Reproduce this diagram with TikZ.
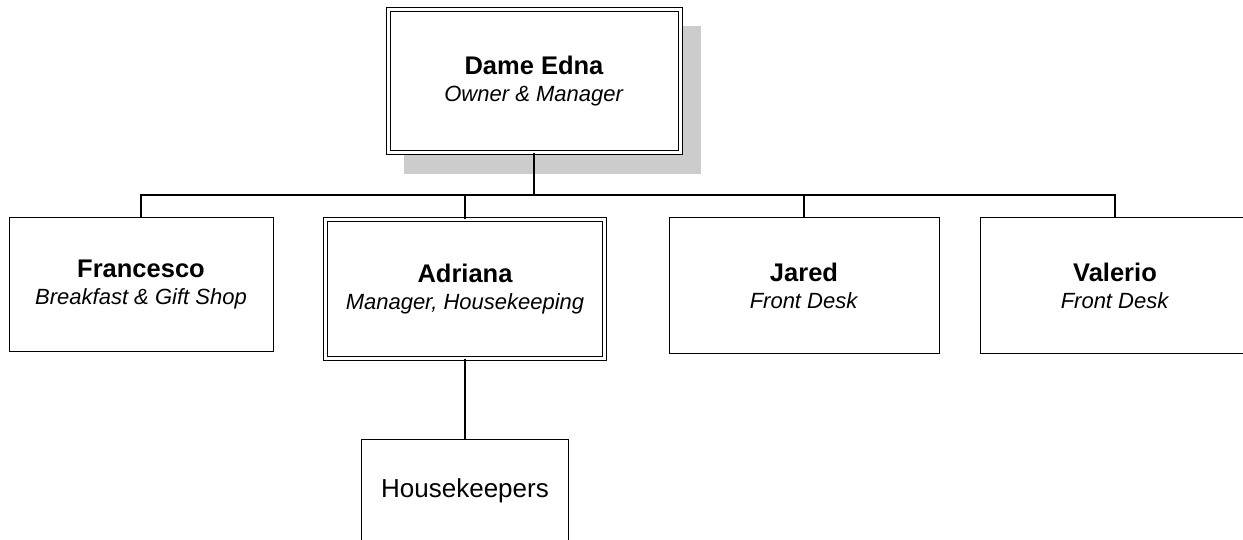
\documentclass[tikz,border=0pt]{standalone}
\usepackage{fontspec}
\setmainfont{Liberation Sans}
\begin{document}
\begin{tikzpicture}[x=1pt,y=-1pt,
  box/.style={draw=black, line width=1pt, fill=white, inner sep=0pt, align=center,
    font=\fontsize{22}{27}\selectfont},
  dbox/.style={box, double=white, double distance=3pt},
  conn/.style={draw=black, line width=1.2pt}]
\useasboundingbox (0,0) rectangle (1243,540);
% shadow of the top box
\fill[black!20] (404,26) rectangle (701,174);
\node[dbox, minimum width=292pt, minimum height=143pt] (edna) at (534,81.5)
  {{\fontsize{25.5}{27}\selectfont\bfseries Dame Edna}\\\textit{Owner \& Manager}};
\node[box, minimum width=264pt, minimum height=133pt] (fran) at (141,284.5)
  {{\fontsize{25.5}{27}\selectfont\bfseries Francesco}\\\textit{Breakfast \& Gift Shop}};
\node[dbox, minimum width=279pt, minimum height=138pt] (adri) at (465,289)
  {{\fontsize{25.5}{27}\selectfont\bfseries Adriana}\\\textit{Manager, Housekeeping}};
\node[box, minimum width=270pt, minimum height=135pt] (jared) at (804,285.5)
  {{\fontsize{25.5}{27}\selectfont\bfseries Jared}\\\textit{Front Desk}};
\node[box, minimum width=270pt, minimum height=135pt] (val) at (1115,285.5)
  {{\fontsize{25.5}{27}\selectfont\bfseries Valerio}\\\textit{Front Desk}};
\node[box, minimum width=207pt, minimum height=104pt, font=\fontsize{26}{30}\selectfont] (house) at (465,491)
  {Housekeepers};
\coordinate (bus) at (534,195);
\draw[conn] (edna.south) -- (bus);
\draw[conn] (fran.north) |- (bus) -| (val.north);
\draw[conn] (adri.north) -- (adri.north |- bus);
\draw[conn] (jared.north) -- (jared.north |- bus);
\draw[conn] (adri.south) -- (house.north);
\end{tikzpicture}
\end{document}
